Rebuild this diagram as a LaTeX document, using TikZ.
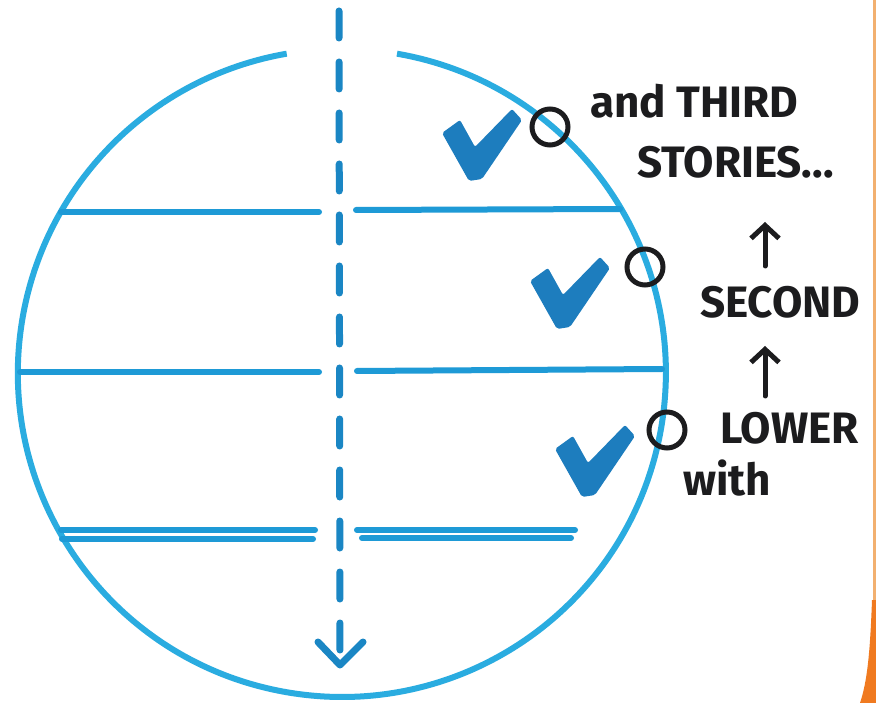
\documentclass[tikz,border=0pt]{standalone}
\usepackage{fontspec}
\setmainfont{Fira Sans}
\usetikzlibrary{arrows.meta}
\definecolor{ringblue}{HTML}{2AACE0}
\definecolor{lineblue}{HTML}{1E9AD6}
\definecolor{dashblue}{HTML}{1A86C4}
\definecolor{tickblue}{HTML}{1D7DBE}
\definecolor{ink}{HTML}{1C1C1E}
\definecolor{edgeorange}{HTML}{F07A20}
\definecolor{paleorange}{HTML}{F2B070}
\tikzset{
  ring/.style={draw=ringblue, line width=6pt},
  floor/.style={draw=lineblue, line width=6pt, line cap=round},
  axisline/.style={draw=dashblue, line width=7pt, line cap=round, dash pattern=on 27pt off 24pt},
  tipline/.style={draw=dashblue, line width=7pt, line cap=round, line join=round},
  marker/.style={draw=ink, line width=5pt, circle, minimum size=36pt, inner sep=0pt},
  lbl/.style={text=ink, font=\fontsize{44}{50}\selectfont\bfseries, inner sep=0pt, anchor=base west},
  uparrow/.style={draw=ink, line width=5pt, line cap=round, -{Straight Barb[length=13pt,width=28pt,line width=5pt]}},
  tickmark/.pic={
    \fill[tickblue, rounded corners=2pt] (-33,-44) -- (-15,-57) -- (0,-30) -- (37,-68) -- (47,-57) -- (7,2) -- (-6,4) -- cycle;
  }
}
\begin{document}
\begin{tikzpicture}[x=1pt,y=-1pt]
\useasboundingbox (0,0) rectangle (876,703);
\fill[white] (0,0) rectangle (876,703);
% right edge orange
\fill[paleorange] (872.5,0) rectangle (876,703);
\fill[edgeorange] (872,600) .. controls (870,655) and (867,682) .. (860,703) -- (876,703) -- (876,600) -- cycle;
% ring with a gap at the top
\coordinate (ringstart) at (397,53.7);
\draw[ring] (ringstart) arc[start angle=-80.2, end angle=260.2, radius=324];
% floors
\coordinate (f1a) at (61,212);  \coordinate (f1b) at (319,212);
\coordinate (f1c) at (356,210); \coordinate (f1d) at (620,209);
\coordinate (f2a) at (20,372);  \coordinate (f2b) at (319,372);
\coordinate (f2c) at (357,371); \coordinate (f2d) at (662,369);
\coordinate (f3a) at (61,530);  \coordinate (f3b) at (315,530);
\coordinate (f3c) at (62,539);  \coordinate (f3d) at (313,539);
\coordinate (f3e) at (357,530); \coordinate (f3f) at (575,530);
\coordinate (f3g) at (362,538); \coordinate (f3h) at (571,538);
\draw[floor] (f1a) -- (f1b);
\draw[floor] (f1c) -- (f1d);
\draw[floor] (f2a) -- (f2b);
\draw[floor] (f2c) -- (f2d);
\draw[floor] (f3a) -- (f3b);
\draw[floor] (f3c) -- (f3d);
\draw[floor] (f3e) -- (f3f);
\draw[floor] (f3g) -- (f3h);
% dashed axis with open arrow head
\coordinate (axtop) at (339,11);
\coordinate (axbot) at (340,662);
\coordinate (tipl) at (318,642);
\coordinate (tip) at (340,665);
\coordinate (tipr) at (363,642);
\draw[axisline] (axtop) -- (axbot);
\draw[tipline] (tipl) -- (tip) -- (tipr);
% check marks
\pic at (475,177) {tickmark};
\pic at (563,325) {tickmark};
\pic at (588,493) {tickmark};
% markers
\node[marker] (m1) at (550,127) {};
\node[marker] (m2) at (645,267) {};
\node[marker] (m3) at (667,430) {};
% labels
\node[lbl] (third) at (590,118) {and THIRD};
\node[lbl] (stories) at (637,178) {STORIES...};
\node[lbl] (second) at (700,318) {SECOND};
\node[lbl] (lower) at (720,443) {LOWER};
\node[lbl] (with) at (683,495) {with};
\coordinate (a1s) at (765,266);
\coordinate (a1e) at (765,222);
\coordinate (a2s) at (765,396);
\coordinate (a2e) at (765,346);
\draw[uparrow] (a1s) -- (a1e);
\draw[uparrow] (a2s) -- (a2e);
\end{tikzpicture}
\end{document}
